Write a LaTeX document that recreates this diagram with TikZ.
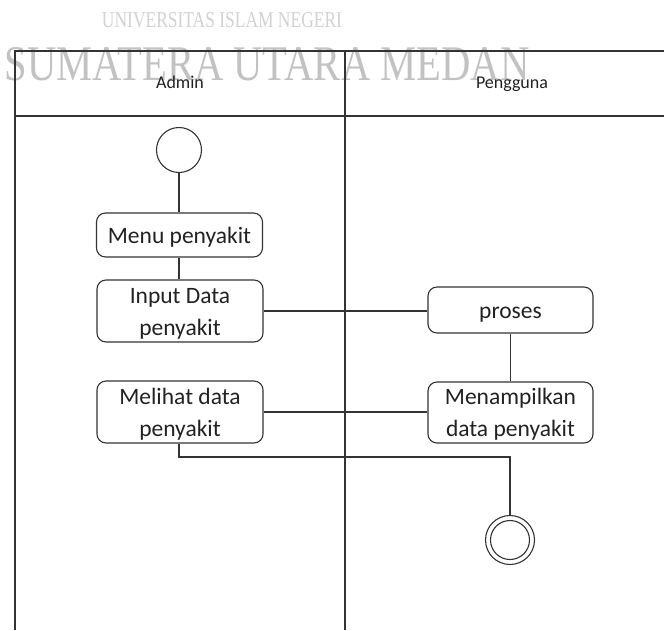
\documentclass[tikz,border=0pt]{standalone}
\usepackage{fontspec}
\setmainfont{Carlito}
\newfontfamily\markfont{Liberation Serif}
\usetikzlibrary{calc}
\definecolor{ink}{HTML}{222222}
\definecolor{rule}{HTML}{333333}
\definecolor{markgray}{HTML}{C2C2C2}
\definecolor{markgraylight}{HTML}{D2D2D2}
% invisible struts that fix the height of the first line and depth of the last
\newcommand\upstrut{\rule{0pt}{20pt}}
\newcommand\downstrut{\rule[-3pt]{0pt}{3pt}}
\begin{document}
\begin{tikzpicture}[x=1pt,y=-1pt,
  lane/.style={draw=rule,line width=1.1pt},
  link/.style={draw=rule,line width=1.1pt},
  actbox/.style={draw=rule,line width=1.1pt,rounded corners=9pt,
    minimum width=166pt,align=center,text=ink,
    font=\fontsize{23.5}{32}\selectfont,inner sep=0pt},
  lanehead/.style={text=ink,font=\fontsize{18}{21}\selectfont,anchor=base},
  startdot/.style={draw=rule,line width=1.1pt,circle,minimum size=45pt,inner sep=0pt},
  ring/.style={draw=rule,line width=1.1pt,circle,inner sep=0pt},
]
\useasboundingbox (0,0) rectangle (664,630);
\fill[white] (0,0) rectangle (664,630);

% institution watermark behind the diagram
\node[text=markgraylight,font=\markfont\fontsize{19}{22}\selectfont] (markA) at (222,20)
  {\resizebox{240pt}{15pt}{UNIVERSITAS ISLAM NEGERI}};
\node[text=markgray,font=\markfont] (markB) at (267,64)
  {\resizebox{525pt}{33pt}{SUMATERA UTARA MEDAN}};

% swimlane frame
\draw[lane] (15,630) -- (15,51) -- (664,51);
\draw[lane] (15,116) -- (664,116);
\draw[lane] (345,51) -- (345,630);
\node[lanehead] (hAdmin) at (180,88) {Admin};
\node[lanehead] (hUser) at (512,88) {Pengguna};

% activities
\node[startdot] (start) at (179,150) {};
\node[actbox,minimum height=44pt] (menu) at (179.5,235) {\upstrut Menu penyakit\downstrut};
\node[actbox,minimum height=62pt] (input) at (180,311) {\upstrut Input Data\\penyakit\downstrut};
\node[actbox,minimum height=46pt,minimum width=165pt] (proses) at (510.5,310) {\upstrut proses\downstrut};
\node[actbox,minimum height=61pt,minimum width=165pt] (tampil) at (510.5,412.5) {\upstrut Menampilkan\\data penyakit\downstrut};
\node[actbox,minimum height=62pt] (lihat) at (180,412) {\upstrut Melihat data\\penyakit\downstrut};
\node[ring,minimum size=49pt] (finish) at (510,540) {};
\node[ring,minimum size=39pt] (finishIn) at (finish.center) {};

% flow
\draw[link] (start.south) -- (start.south |- menu.north);
\draw[link] (menu.south -| start.south) -- (input.north -| start.south);
\draw[link] (input.east) -- (input.east -| proses.west);
\draw[link] (proses.south) -- (tampil.north);
\draw[link] (tampil.west |- lihat.east) -- (lihat.east);
\coordinate (bendA) at (179,457);
\coordinate (bendB) at (finish.north |- bendA);
\draw[link] (lihat.south -| bendA) -- (bendA) -- (bendB) -- (finish.north);
\end{tikzpicture}
\end{document}
